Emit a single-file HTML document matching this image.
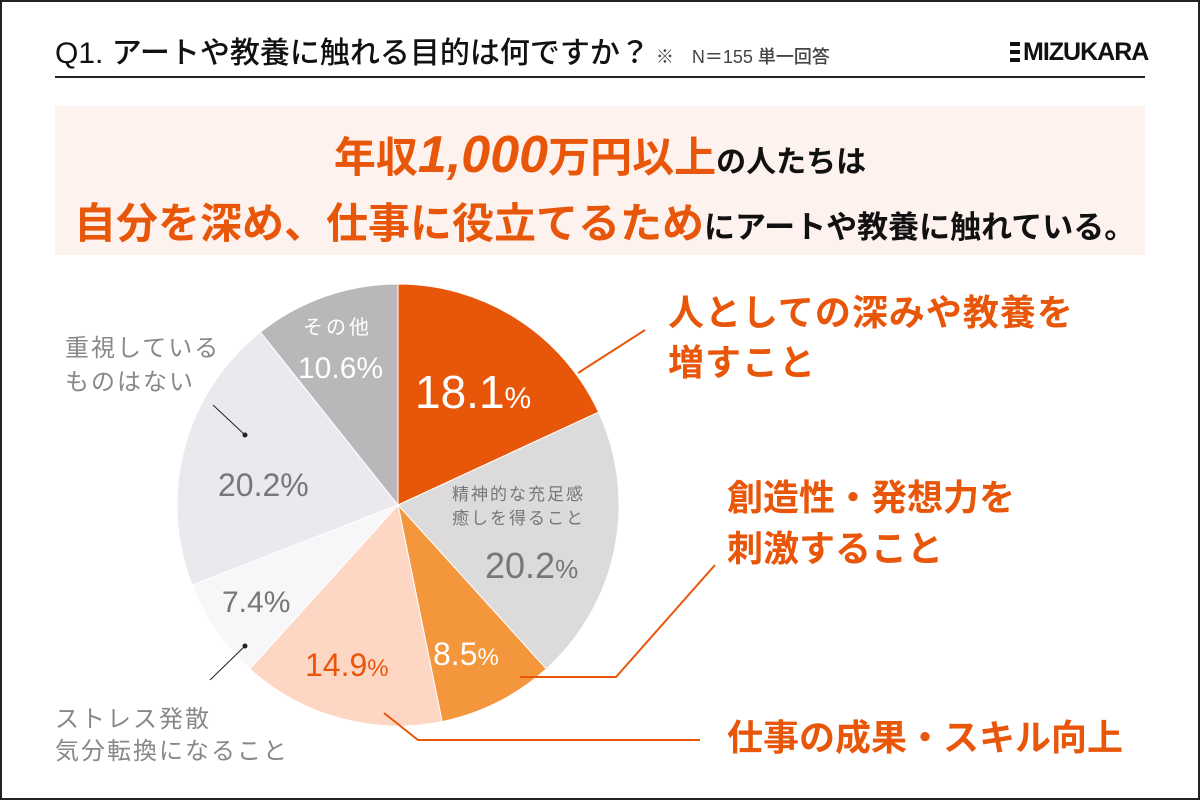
<!DOCTYPE html>
<html><head><meta charset="utf-8"><style>
html,body{margin:0;padding:0;background:#fff;}
body{width:1200px;height:800px;position:relative;overflow:hidden;font-family:"Liberation Sans","Noto Sans CJK JP",sans-serif;}
.frame{position:absolute;left:0;top:0;width:1196px;height:796px;border:2px solid #222;}
.t{position:absolute;white-space:nowrap;}
</style></head><body>
<div class="frame"></div>
<div class="t" style="left:55px;top:28px;font-size:30px;color:#111;font-weight:500;">Q1. アートや教養に触れる目的は何ですか？<span style="font-size:18px;color:#444;margin-left:6px;">※　N＝155 単一回答</span></div>
<div class="t" style="left:1010px;top:38px;font-size:25px;color:#111;font-weight:bold;letter-spacing:-1px;"><span style="display:inline-block;width:10px;height:20px;border-top:4px solid #111;border-bottom:4px solid #111;box-sizing:border-box;background:linear-gradient(#fff 0 4px,#111 4px 8px,#fff 8px);vertical-align:-2px;margin-right:3px;"></span>MIZUKARA</div>
<div style="position:absolute;left:55px;top:76px;width:1090px;height:2px;background:#222;"></div>
<div style="position:absolute;left:55px;top:106px;width:1090px;height:149px;background:#fdf2ed;"></div>
<div class="t" style="left:0;width:1200px;text-align:center;top:124px;font-weight:bold;color:#111;font-size:30px;"><span style="color:#e8560a;font-size:42px;">年収<span style="font-size:52px;font-style:italic;">1,000</span>万円以上</span>の人たちは</div>
<div class="t" style="left:74px;top:190px;font-weight:bold;color:#111;font-size:31px;"><span style="color:#e8560a;font-size:42px;">自分を深め、仕事に役立てるため</span>にアートや教養に触れている。</div>

<svg style="position:absolute;left:0;top:0" width="1200" height="800">
<g stroke="#fff" stroke-width="1">
<path d="M398,505 L398,284 A221,221 0 0 1 598.6,412.2Z" fill="#e8560a"/>
<path d="M398,505 L598.6,412.2 A221,221 0 0 1 546.3,668.9Z" fill="#dcdadb"/>
<path d="M398,505 L546.3,668.9 A221,221 0 0 1 442.1,721.6Z" fill="#f4963c"/>
<path d="M398,505 L442.1,721.6 A221,221 0 0 1 249.8,668.9Z" fill="#fdd6c4"/>
<path d="M398,505 L249.8,668.9 A221,221 0 0 1 192,585.1Z" fill="#f7f6f8"/>
<path d="M398,505 L192,585.1 A221,221 0 0 1 260.4,332.1Z" fill="#ebe9ed"/>
<path d="M398,505 L260.4,332.1 A221,221 0 0 1 398,284Z" fill="#b9b7b9"/>
</g>
<g fill="none" stroke="#e8560a" stroke-width="2">
<polyline points="578,373 645,330"/>
<polyline points="520,677 616,677 715,565"/>
<polyline points="384,713 418,740 700,740"/>
</g>
<g stroke="#222" stroke-width="1">
<line x1="213" y1="405" x2="245" y2="435"/><circle cx="245" cy="435" r="2" fill="#222"/>
<line x1="210" y1="680" x2="245" y2="646"/><circle cx="245" cy="646" r="2" fill="#222"/>
</g>
<g font-family="Liberation Sans,Noto Sans CJK JP,sans-serif">
<text x="303" y="334" font-size="20" fill="#fff" letter-spacing="3">その他</text>
<text x="298" y="378" font-size="30" fill="#fff">10.6%</text>
<text x="415" y="408" font-size="46" fill="#fff">18.1<tspan font-size="30">%</tspan></text>
<text x="452" y="500" font-size="17" fill="#777" letter-spacing="2">精神的な充足感</text>
<text x="452" y="524" font-size="17" fill="#777" letter-spacing="2">癒しを得ること</text>
<text x="485" y="578" font-size="36" fill="#777">20.2<tspan font-size="26">%</tspan></text>
<text x="433" y="665" font-size="32" fill="#fff">8.5<tspan font-size="24">%</tspan></text>
<text x="305" y="676" font-size="32" fill="#e8560a">14.9<tspan font-size="24">%</tspan></text>
<text x="222" y="612" font-size="30" fill="#777">7.4%</text>
<text x="218" y="496" font-size="32" fill="#777">20.2%</text>
<text x="65" y="356" font-size="24" fill="#888" letter-spacing="2">重視している</text>
<text x="65" y="390" font-size="24" fill="#888" letter-spacing="2">ものはない</text>
<text x="55" y="727" font-size="24" fill="#888" letter-spacing="2">ストレス発散</text>
<text x="55" y="759" font-size="24" fill="#888" letter-spacing="2">気分転換になること</text>
<g fill="#e8560a" font-size="36" font-weight="bold">
<text x="668" y="325" letter-spacing="1">人としての深みや教養を</text>
<text x="668" y="375" letter-spacing="1">増すこと</text>
<text x="727" y="510">創造性・発想力を</text>
<text x="727" y="561">刺激すること</text>
<text x="727" y="750">仕事の成果・スキル向上</text>
</g>
</g>
</svg>
</body></html>
